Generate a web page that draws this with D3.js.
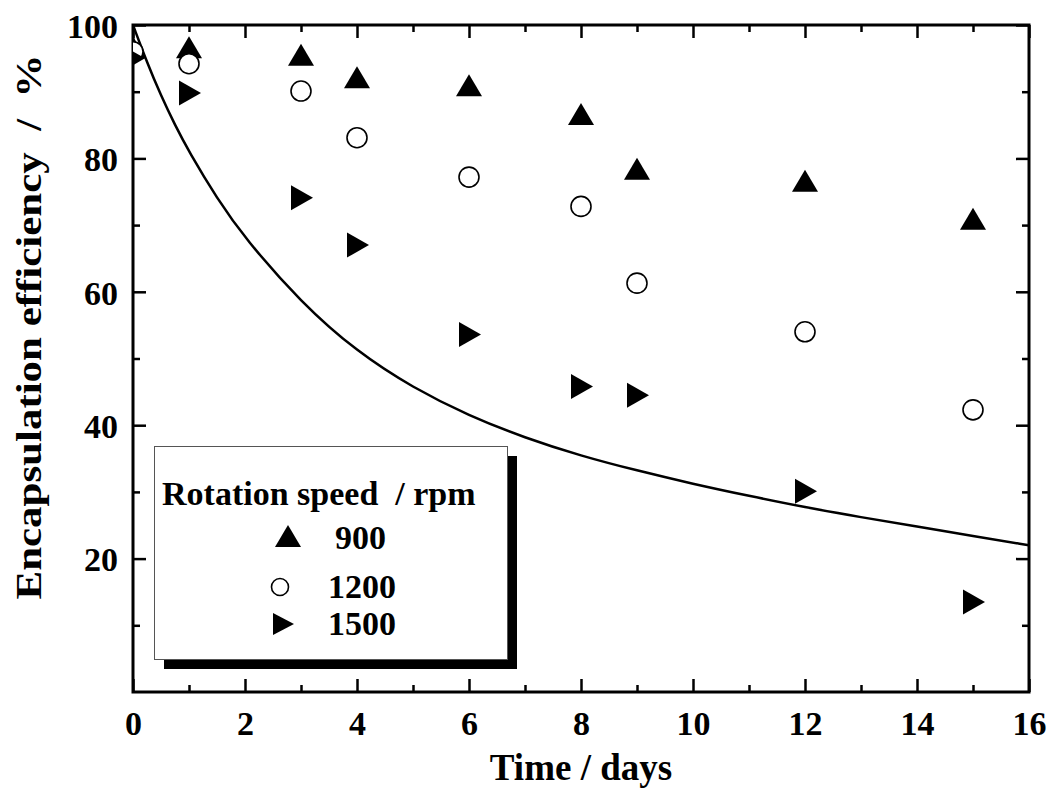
<!DOCTYPE html>
<html>
<head>
<meta charset="utf-8">
<script src="https://cdn.jsdelivr.net/npm/d3@7/dist/d3.min.js"></script>
<style>
html, body { margin: 0; padding: 0; background: #fff; }
svg { display: block; }
text { font-family: "Liberation Serif", "Times New Roman", serif; font-weight: bold; fill: #000; }
</style>
</head>
<body>
<svg id="chart" width="1054" height="790"></svg>
<script>
// ---- data ----
const days = [0, 1, 3, 4, 6, 8, 9, 12, 15];
const rpm900  = [96.5, 96.5, 95.4, 92.0, 90.8, 86.5, 78.3, 76.5, 70.8];
const rpm1200 = [96.0, 94.2, 90.1, 83.1, 77.2, 72.8, 61.3, 54.0, 42.3];
const rpm1500 = [95.0, 89.8, 74.1, 67.0, 53.6, 45.8, 44.5, 30.1, 13.5];
const curveX = [0, 0.25, 0.5, 0.75, 1, 1.5, 2, 3, 4, 5, 6, 7, 8, 9, 10, 11, 12, 13, 14, 15, 16];
const curveY = [100, 94.4, 89.4, 85.0, 81.0, 74.0, 68.0, 58.4, 51.0, 45.6, 41.4, 38.1, 35.4, 33.2, 31.2, 29.4, 27.7, 26.2, 24.8, 23.4, 22.0];
const xTicks = [0, 2, 4, 6, 8, 10, 12, 14, 16];
const yTicks = [20, 40, 60, 80, 100];
const legendTitle = "Rotation speed  / rpm";
const seriesNames = ["900", "1200", "1500"];

// ---- layout ----
const L = 133, R = 1029, T = 25, B = 692;
const x = d3.scaleLinear().domain([0, 16]).range([L, R]);
const y = d3.scaleLinear().domain([0, 100]).range([B, T]);
const svg = d3.select("#chart");

svg.append("defs").append("clipPath").attr("id", "clip")
  .append("rect").attr("x", L).attr("y", T).attr("width", R - L).attr("height", B - T);

// ---- axes (inward ticks, major + minor) ----
const minorX = d3.range(1, 16, 2);
const minorY = d3.range(10, 100, 20);
function drawAxis(axisGen, tf, major, minor, showLabels) {
  const gMinor = svg.append("g").attr("transform", tf)
    .call(axisGen.tickValues(minor).tickSize(-7).tickFormat(""));
  gMinor.select(".domain").remove();
  gMinor.selectAll("line").attr("stroke", "#000").attr("stroke-width", 2.5);
  const gMaj = svg.append("g").attr("transform", tf)
    .call(axisGen.tickValues(major).tickSize(-13).tickFormat(showLabels ? d3.format("d") : ""));
  gMaj.select(".domain").remove();
  gMaj.selectAll("line").attr("stroke", "#000").attr("stroke-width", 2.5);
  return gMaj;
}
const gxB = drawAxis(d3.axisBottom(x), `translate(0,${B})`, xTicks, minorX, true);
gxB.selectAll("text").attr("font-size", 34).attr("font-family", "Liberation Serif").attr("font-weight", "bold").attr("dy", 0).attr("y", 43);
drawAxis(d3.axisTop(x), `translate(0,${T})`, xTicks, minorX, false);
const gyL = drawAxis(d3.axisLeft(y), `translate(${L},0)`, yTicks, minorY, true);
gyL.selectAll("text").attr("font-size", 34).attr("font-family", "Liberation Serif").attr("font-weight", "bold").attr("x", -15).attr("dy", "0.36em");
drawAxis(d3.axisRight(y), `translate(${R},0)`, yTicks, minorY, false);

svg.append("rect").attr("x", L).attr("y", T).attr("width", R - L).attr("height", B - T)
  .attr("fill", "none").attr("stroke", "#000").attr("stroke-width", 3);

// ---- curve ----
const pts = curveX.map((d, i) => [d, curveY[i]]);
const plot = svg.append("g").attr("clip-path", "url(#clip)");
plot.append("path").datum(pts)
  .attr("d", d3.line().x(d => x(d[0])).y(d => y(d[1])).curve(d3.curveBasis))
  .attr("fill", "none").attr("stroke", "#000").attr("stroke-width", 2.5);

// ---- markers ----
const upTri = "M-13,10 L13,10 L0,-12 Z";
const rightTri = "M-10,-12.5 L12,0 L-10,12.5 Z";
plot.selectAll(".s900").data(days).enter().append("path")
  .attr("d", upTri).attr("fill", "#000")
  .attr("transform", (d, i) => `translate(${x(d)},${y(rpm900[i])})`);
plot.selectAll(".s1200").data(days).enter().append("circle")
  .attr("cx", d => x(d)).attr("cy", (d, i) => y(rpm1200[i])).attr("r", 10)
  .attr("fill", "#fff").attr("stroke", "#000").attr("stroke-width", 1.6);
plot.selectAll(".s1500").data(days).enter().append("path")
  .attr("d", rightTri).attr("fill", "#000")
  .attr("transform", (d, i) => `translate(${x(d)},${y(rpm1500[i])})`);

// ---- legend ----
const lg = svg.append("g");
lg.append("rect").attr("x", 164).attr("y", 456).attr("width", 353).attr("height", 213).attr("fill", "#000");
lg.append("rect").attr("x", 154.5).attr("y", 446.5).attr("width", 353).attr("height", 213)
  .attr("fill", "#fff").attr("stroke", "#555").attr("stroke-width", 1);
lg.append("text").attr("x", 162).attr("y", 505).attr("font-size", 34)
  .attr("xml:space", "preserve").style("white-space", "pre").text(legendTitle);
lg.append("path").attr("d", upTri).attr("fill", "#000").attr("transform", "translate(288,537)");
lg.append("circle").attr("cx", 280).attr("cy", 587).attr("r", 8.5).attr("fill", "#fff").attr("stroke", "#000").attr("stroke-width", 1.6);
lg.append("path").attr("d", "M-10,-11 L11,0 L-10,11 Z").attr("fill", "#000").attr("transform", "translate(283,624)");
const lgY = [549, 598, 635];
const lgX = [335, 328, 328];
seriesNames.forEach((n, i) => {
  lg.append("text").attr("x", lgX[i]).attr("y", lgY[i]).attr("font-size", 34).text(n);
});

// ---- axis titles ----
svg.append("text").attr("x", 581).attr("y", 780).attr("text-anchor", "middle")
  .attr("font-size", 37).text("Time / days");
svg.append("text").attr("transform", "translate(41,327) rotate(-90)")
  .attr("text-anchor", "middle").attr("font-size", 36)
  .attr("xml:space", "preserve").style("white-space", "pre")
  .attr("textLength", 545).attr("lengthAdjust", "spacingAndGlyphs")
  .text("Encapsulation efficiency  /  %");
</script>
</body>
</html>
